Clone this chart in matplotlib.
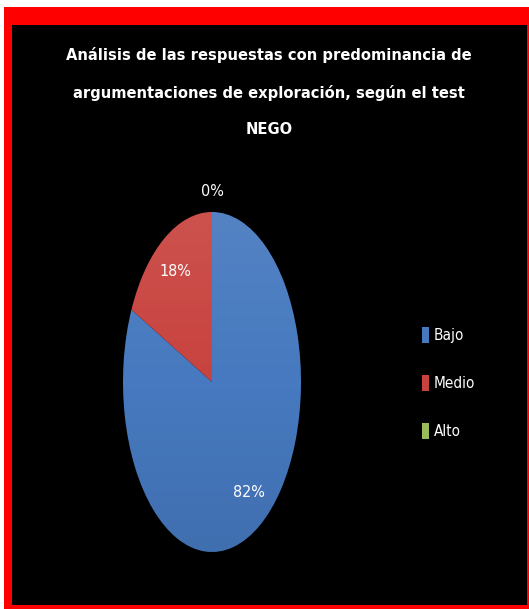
import matplotlib
matplotlib.use("Agg")
import matplotlib.pyplot as plt
import numpy as np
from matplotlib.font_manager import FontProperties
from matplotlib.patches import Rectangle, Patch, Circle

# Datos del gráfico
categorias = ["Bajo", "Medio", "Alto"]
porcentajes = [82, 18, 0]
colores = ["#4679BF", "#C8433F", "#9BBB59"]
titulo = ("Análisis de las respuestas con predominancia de\n"
          "argumentaciones de exploración, según el test\n"
          "NEGO")


def fuente(size, negrita=False):
    return FontProperties(family="DejaVu Sans", stretch="condensed",
                          weight="bold" if negrita else "normal", size=size)


W, H = 529, 609
fig = plt.figure(figsize=(W / 100, H / 100), dpi=100, facecolor="white")

# Marco rojo y fondo negro
fig.patches.append(Rectangle((4 / W, 0), 525 / W, 602 / H, transform=fig.transFigure,
                             facecolor="#FF0000", edgecolor="none", zorder=-2))
fig.patches.append(Rectangle((12 / W, 4 / H), 515 / W, 580 / H, transform=fig.transFigure,
                             facecolor="black", edgecolor="none", zorder=-1))

fig.text(269 / W, 1 - 92 / H, titulo, ha="center", va="center", color="white",
         fontproperties=fuente(11.8, True), linespacing=2.7)

# Pastel estirado en vertical (elipse)
cx, cy, rx, ry = 212, 382, 89, 170
ax = fig.add_axes([(cx - rx) / W, (H - cy - ry) / H, 2 * rx / W, 2 * ry / H])
wedges, textos, pcts = ax.pie(porcentajes, colors=colores, startangle=90, counterclock=False,
                              autopct="%1.0f%%", pctdistance=0.77,
                              wedgeprops=dict(edgecolor="none"))
for t in pcts:
    t.set_fontproperties(fuente(11.5))
    t.set_color("white")
    t.set_zorder(5)
ax.set_aspect("auto")
ax.axis("off")

# sombreado suave: más claro arriba, más oscuro abajo
sombra = np.zeros((100, 2, 4))
a = np.linspace(-1, 1, 100)
sombra[:, :, :3] = np.where(a[:, None, None] > 0, 1.0, 0.0)
sombra[:, :, 3] = (np.abs(a) * 0.08)[:, None]
img = ax.imshow(sombra, extent=(-1, 1, -1, 1), origin="lower", aspect="auto", zorder=3)
img.set_clip_path(Circle((0, 0), 1, transform=ax.transData))
ax.set_xlim(-1, 1)
ax.set_ylim(-1, 1)

# La etiqueta del 0% va por fuera del pastel
for valor, t in zip(porcentajes, pcts):
    if valor == 0:
        t.set_position((0, 1.12))

# Leyenda
manejadores = [Patch(facecolor=c, edgecolor="none") for c in colores]
fig.legend(manejadores, categorias, loc="center left", bbox_to_anchor=(408 / W, 1 - 383 / H),
           frameon=False, labelcolor="white", prop=fuente(11),
           handlelength=0.45, handleheight=1.25, handletextpad=0.35, labelspacing=2.1)

fig.savefig("out.png", dpi=100, facecolor="white")
